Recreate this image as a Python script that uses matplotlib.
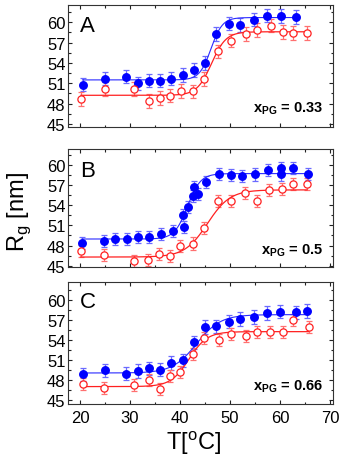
import numpy as np
import matplotlib
matplotlib.use("Agg")
import matplotlib.pyplot as plt
from matplotlib.ticker import MultipleLocator

plt.rcParams['font.family'] = ['Liberation Sans', 'DejaVu Sans']
plt.rcParams['mathtext.fontset'] = 'custom'
plt.rcParams['mathtext.rm'] = 'Liberation Sans'
plt.rcParams['mathtext.bf'] = 'Liberation Sans:bold'

# ---- data ----
# panel A, x_PG = 0.33
tA_blue = [20.5, 24.9, 29.2, 31.5, 33.7, 36.0, 38.3, 40.5, 42.8, 45.0, 47.2, 49.7, 52.1, 54.8, 57.3, 60.1, 63.1]
rgA_blue = [50.8, 51.7, 52.0, 51.0, 51.4, 51.4, 51.7, 52.2, 53.0, 54.0, 58.3, 59.8, 59.6, 60.4, 61.0, 60.9, 60.8]
tA_red = [20.2, 24.9, 30.7, 33.8, 36.0, 38.0, 40.1, 42.5, 44.8, 47.5, 50.1, 53.2, 55.3, 58.1, 60.5, 62.5, 65.4]
rgA_red = [48.7, 50.2, 50.2, 48.4, 48.8, 49.2, 49.9, 49.8, 51.6, 55.7, 57.3, 58.3, 58.9, 59.5, 58.6, 58.4, 58.4]

# panel B, x_PG = 0.5
tB_blue = [20.4, 24.7, 26.9, 29.3, 31.5, 33.7, 36.2, 38.5, 40.5, 40.7, 41.5, 42.5, 42.7, 43.6, 45.2,
           47.7, 50.1, 52.5, 55.0, 57.5, 60.1, 60.1, 62.5, 65.5]
rgB_blue = [48.4, 48.7, 49.0, 49.0, 49.3, 49.3, 49.7, 50.1, 52.5, 50.7, 53.8, 55.4, 56.7, 55.7, 57.5,
            58.7, 58.5, 58.4, 58.6, 59.3, 59.5, 58.6, 59.5, 58.7]
tB_red = [20.1, 24.8, 30.7, 33.5, 35.8, 38.0, 39.9, 42.5, 44.8, 47.5, 50.2, 53.1, 55.3, 57.8, 60.3, 62.5, 65.4]
rgB_red = [47.2, 46.6, 45.7, 45.8, 46.7, 46.4, 47.9, 48.3, 50.6, 54.7, 54.7, 55.9, 54.6, 56.3, 56.4, 57.2, 57.2]

# panel C, x_PG = 0.66
tC_blue = [20.5, 24.9, 29.2, 31.5, 33.7, 35.9, 38.2, 40.5, 42.7, 45.0, 47.3, 49.8, 52.1, 54.8, 57.3, 60.0, 63.1, 65.3]
rgC_blue = [48.8, 49.4, 48.9, 49.3, 49.7, 49.5, 50.5, 50.9, 53.6, 55.9, 56.0, 56.7, 57.1, 57.4, 58.0, 58.2, 58.1, 58.3]
tC_red = [20.5, 24.7, 30.7, 33.7, 35.9, 38.0, 40.0, 42.5, 44.9, 47.7, 50.3, 53.3, 55.3, 58.0, 60.5, 62.5, 65.7]
rgC_red = [47.3, 46.7, 47.2, 48.0, 46.6, 48.5, 49.2, 51.9, 54.2, 53.9, 54.9, 54.6, 55.1, 55.1, 55.1, 56.9, 55.9]

# error bars (nm)
err_blue = [1.0, 0.9, 1.0]
err_red = [1.0, 0.9, 0.9]

# Boltzmann fit parameters: low plateau, high plateau, midpoint, width
fit_blue = [[51.5, 60.7, 46.2, 1.15], [48.97, 58.73, 41.5, 1.3], [49.0, 57.75, 43.3, 2.4]]
fit_red = [[49.23, 58.6, 46.3, 1.45], [46.28, 56.3, 45.5, 2.26], [46.96, 55.2, 41.8, 1.82]]

letters = ['A', 'B', 'C']
xpg = ['0.33', '0.5', '0.66']

t_blue = [tA_blue, tB_blue, tC_blue]
rg_blue = [rgA_blue, rgB_blue, rgC_blue]
t_red = [tA_red, tB_red, tC_red]
rg_red = [rgA_red, rgB_red, rgC_red]


def boltzmann(x, p):
    a1, a2, x0, dx = p
    return a2 + (a1 - a2) / (1 + np.exp((x - x0) / dx))


fig = plt.figure(figsize=(3.54, 4.6), dpi=100)
W, H = 354.0, 460.0
# (top px, bottom px, ylim)
boxes = [(6, 127.7, (44.6, 62.55)), (150, 268.3, (44.75, 62.4)), (283.3, 405, (44.35, 62.6))]
letter_y = [0.785, 0.77, 0.795]

axes = []
for i in range(3):
    top, bot, ylim = boxes[i]
    ax = fig.add_axes([68.3 / W, (H - bot) / H, 264.4 / W, (bot - top) / H])
    axes.append(ax)

    ax.errorbar(t_blue[i], rg_blue[i], yerr=err_blue[i], fmt='none', ecolor='#6a6aff',
                elinewidth=0.9, capsize=2.2, capthick=0.9, zorder=2)
    ax.errorbar(t_red[i], rg_red[i], yerr=err_red[i], fmt='none', ecolor='#ff7070',
                elinewidth=0.9, capsize=2.2, capthick=0.9, zorder=2)

    xb = np.linspace(t_blue[i][0], t_blue[i][-1], 300)
    xr = np.linspace(t_red[i][0], t_red[i][-1], 300)
    ax.plot(xb, boltzmann(xb, fit_blue[i]), color='#2a2aff', lw=0.8, zorder=3)
    ax.plot(xr, boltzmann(xr, fit_red[i]), color='#ff2020', lw=0.9, zorder=3)

    ax.plot(t_blue[i], rg_blue[i], 'o', ms=5.4, color='#0000ff', mec='#0000ff', zorder=4)
    ax.plot(t_red[i], rg_red[i], 'o', ms=5.2, mfc='white', mec='#ff2020', mew=0.9, zorder=4)

    ax.set_xlim(17.66, 70.54)
    ax.set_ylim(*ylim)
    ax.xaxis.set_major_locator(MultipleLocator(10))
    ax.xaxis.set_minor_locator(MultipleLocator(5))
    ax.yaxis.set_major_locator(MultipleLocator(3))
    ax.yaxis.set_minor_locator(MultipleLocator(1.5))
    ax.tick_params(which='both', direction='in', top=True, right=True, width=0.8, labelsize=12,
                   colors='#222222', labelcolor='black')
    ax.tick_params(which='major', length=3)
    ax.tick_params(which='minor', length=1.8)
    ax.tick_params(axis='y', pad=2)
    for s in ax.spines.values():
        s.set_linewidth(0.8)
        s.set_color('#333333')
    if i < 2:
        ax.tick_params(labelbottom=False)

    ax.text(0.045, letter_y[i], letters[i], transform=ax.transAxes, fontsize=16, va='baseline')
    ax.text(0.965, 0.12, r'$\mathbf{x_{PG}}$' + ' = ' + xpg[i], transform=ax.transAxes,
            fontsize=10.5, fontweight='bold', ha='right', va='baseline')

axes[1].set_ylabel(r'R$_\mathrm{g}$ [nm]', fontsize=17)
axes[1].yaxis.set_label_coords(-0.135, 0.48)
axes[2].tick_params(axis='x', pad=4)
axes[2].set_xlabel(r'T[$^\mathrm{o}$C]', fontsize=17)
axes[2].xaxis.set_label_coords(0.475, -0.2)

fig.savefig('out.png', dpi=100)
